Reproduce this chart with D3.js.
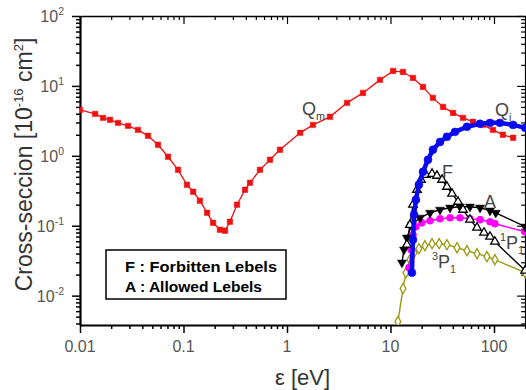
<!DOCTYPE html>
<html><head><meta charset="utf-8">
<script src="https://cdn.jsdelivr.net/npm/d3@7"></script>
<style>body{margin:0;background:#fff}svg{display:block}</style>
</head><body>
<script>
// ---- data (energy in eV, cross-section in 1e-16 cm^2) ----
const qmE=[0.01,0.014,0.0167,0.0195,0.0233,0.0291,0.0363,0.0454,0.0567,0.0709,0.0886,0.108,0.124,0.144,0.169,0.193,0.225,0.252,0.281,0.329,0.393,0.439,0.548,0.685,0.855,1.34,1.78,2.6,3.8,5.42,7.92,10.6,13.2,16.5,20.6,25.7,32.2,40.2,50.2,62.7,78.3,97.7,122,153];
const qmV=[4.54,3.98,3.49,3.27,2.96,2.68,2.35,1.93,1.44,0.97,0.63,0.385,0.306,0.228,0.153,0.110,0.0877,0.085,0.114,0.2,0.327,0.411,0.63,0.877,1.22,2.13,2.77,3.61,5.72,7.94,12.2,16.4,15.8,13.0,9.68,6.74,5.01,4.11,3.49,3.06,2.77,2.35,2.0,1.81];
const qiE=[16.1,16.5,16.9,17.6,18.8,20.6,23.0,25.7,30.1,35.1,42.0,54.8,73.3,91.5,114,153,200];
const qiV=[0.0213,0.063,0.144,0.235,0.385,0.59,0.877,1.22,1.58,1.87,2.2,2.6,2.87,2.96,2.96,2.77,2.51];
const fE=[14.4,15.4,16.5,18.0,19.7,22.0,25.2,28.1,31.5,35.1,39.3,44.9,50.2,58.6,68.5,80.0,91.5,102,200];
const fV=[0.0535,0.103,0.2,0.327,0.454,0.535,0.553,0.518,0.454,0.361,0.287,0.22,0.169,0.122,0.0936,0.0794,0.0696,0.059,0.0228];
const aE=[12.9,13.5,14.4,16.1,19.3,24.1,30.1,37.6,46.9,58.6,73.3,91.5,104,200];
const aV=[0.0296,0.0454,0.0674,0.103,0.13,0.153,0.169,0.181,0.187,0.187,0.181,0.164,0.153,0.0968];
const p1E=[15.1,15.8,16.5,17.6,20.1,24.1,30.1,37.6,46.9,58.6,73.3,91.5,102,200];
const p1V=[0.0251,0.0454,0.0744,0.0968,0.11,0.118,0.126,0.13,0.13,0.126,0.122,0.114,0.107,0.082];
const p3E=[11.8,13.2,14.1,15.4,16.9,18.8,21.5,25.2,29.5,35.1,43.9,54.8,68.5,85.5,102,200];
const p3V=[0.00425,0.0126,0.0213,0.0327,0.0411,0.0469,0.0518,0.0553,0.0553,0.0535,0.0485,0.0439,0.0398,0.0361,0.0327,0.0213];
const xTickLabels=["0.01","0.1","1","10","100"];
const yTickExps=[-2,-1,0,1,2];

const W=526,H=390;
const L=80,T=16,B=325;
const x=d3.scaleLog().domain([0.01,200]).range([L,L+103.5*Math.log10(20000)]);
const y=d3.scaleLog().domain([0.0038,100]).range([B,T]);
const R=x.range()[1];

const svg=d3.select("body").append("svg").attr("width",W).attr("height",H)
  .style("font-family","Arial, 'Liberation Sans', sans-serif");

svg.append("clipPath").attr("id","clip").append("rect").attr("x",L).attr("y",T).attr("width",R-L+2).attr("height",B-T);

const xt=[];for(let e=-2;e<=2;e++)for(let k=1;k<=9;k++){const v=k*Math.pow(10,e);if(v<=200)xt.push(v);}
const yt=[];for(let e=-3;e<=2;e++)for(let k=1;k<=9;k++){const v=k*Math.pow(10,e);if(v>=0.0038&&v<=100)yt.push(v);}
const isMaj=v=>Math.abs(Math.log10(v)-Math.round(Math.log10(v)))<1e-9;

const gx=svg.append("g").attr("transform",`translate(0,${B})`)
  .call(d3.axisBottom(x).tickValues(xt).tickFormat("").tickSizeOuter(0));
gx.selectAll(".tick line").attr("y2",d=>isMaj(d)?8:4).attr("stroke-width",1.5);
gx.select(".domain").attr("stroke-width",2.2);
const gy=svg.append("g").attr("transform",`translate(${L},0)`)
  .call(d3.axisLeft(y).tickValues(yt).tickFormat("").tickSizeOuter(0));
gy.selectAll(".tick line").attr("x2",d=>isMaj(d)?-8:-4).attr("stroke-width",1.5);
gy.select(".domain").attr("stroke-width",2.2);
const gr=svg.append("g").attr("transform",`translate(${R},0)`)
  .call(d3.axisLeft(y).tickValues(yt).tickFormat("").tickSizeOuter(0));
gr.selectAll(".tick line").attr("x2",d=>isMaj(d)?-8:-4).attr("stroke-width",1.2);
gr.select(".domain").attr("stroke-width",1.5);
const gt=svg.append("g").attr("transform",`translate(0,${T})`)
  .call(d3.axisBottom(x).tickValues(xt).tickFormat("").tickSizeOuter(0));
gt.selectAll(".tick line").attr("y2",d=>isMaj(d)?8:4).attr("stroke-width",1.2);
gt.select(".domain").attr("stroke-width",1.5);

xTickLabels.forEach(s=>{
  svg.append("text").attr("x",x(+s)).attr("y",352).attr("text-anchor","middle")
    .attr("font-size",16).attr("fill","#555").text(s);
});
yTickExps.forEach(e=>{
  const t=svg.append("text").attr("x",64).attr("y",y(Math.pow(10,e))+6).attr("text-anchor","end")
    .attr("font-size",16).attr("fill","#555");
  t.append("tspan").text("10");
  t.append("tspan").attr("dy",-7).attr("font-size",10.5).text(String(e));
});

svg.append("text").attr("x",(L+R)/2).attr("y",385).attr("text-anchor","middle")
  .attr("font-size",22).attr("fill","#333")
  .text("ε [eV]");
const yl=svg.append("text").attr("transform",`translate(32,${(T+B)/2-6}) rotate(-90)`)
  .attr("text-anchor","middle").attr("font-size",23).attr("fill","#333");
yl.append("tspan").text("Cross-seccion [10");
yl.append("tspan").attr("dy",-9).attr("font-size",13).text("-16");
yl.append("tspan").attr("dy",9).text(" cm");
yl.append("tspan").attr("dy",-9).attr("font-size",13).text("2");
yl.append("tspan").attr("dy",9).text("]");

const plot=svg.append("g").attr("clip-path","url(#clip)");
const line=d3.line().x(d=>x(d[0])).y(d=>y(d[1]));
function series(E,V,color,width,shape,size,fill){
  const pts=E.map((e,i)=>[e,V[i]]);
  plot.append("path").datum(pts).attr("d",line).attr("fill","none").attr("stroke",color).attr("stroke-width",width);
  const sym=d3.symbol().type(shape).size(size);
  plot.selectAll(null).data(pts).enter().append("path")
    .attr("transform",d=>`translate(${x(d[0])},${y(d[1])})${fill==="down"?" rotate(180)":""}`)
    .attr("d",sym())
    .attr("fill",fill==="none"?"#fff":color)
    .attr("stroke",color).attr("stroke-width",fill==="none"?1.3:0.5);
}
series(qmE,qmV,"#ee1111",1.3,d3.symbolSquare,30,"solid");
series(p3E,p3V,"#9a9a10",1.4,d3.symbolDiamond,30,"none");
series(p1E,p1V,"#ff00ff",1.5,d3.symbolCircle,40,"solid");
series(aE,aV,"#000",1.4,d3.symbolTriangle,35,"down");
series(fE,fV,"#000",1.4,d3.symbolTriangle,32,"none");
series(qiE,qiV,"#0a0aee",4.5,d3.symbolCircle,50,"solid");

function lab(xp,yp,pre,main,sub,size){
  const t=svg.append("text").attr("x",xp).attr("y",yp).attr("font-size",size).attr("fill","#444");
  if(pre) t.append("tspan").attr("font-size",size*0.6).attr("dy",-8).text(pre);
  t.append("tspan").attr("dy",pre?8:0).text(main);
  if(sub) t.append("tspan").attr("font-size",size*0.6).attr("dy",5).text(sub);
}
lab(302,115,null,"Q","m",18);
lab(495,116,null,"Q","i",18);
lab(442,178,null,"F",null,18);
lab(484,208,null,"A",null,18);
lab(500,249,"1","P","1",18);
lab(432,268,"3","P","1",18);

svg.append("rect").attr("x",106).attr("y",250).attr("width",180).attr("height",49)
  .attr("fill","#fff").attr("stroke","#000").attr("stroke-width",1.5);
svg.append("text").attr("x",125).attr("y",272).attr("font-size",15).attr("font-weight","bold")
  .attr("textLength",152).attr("lengthAdjust","spacingAndGlyphs").text("F : Forbitten Lebels");
svg.append("text").attr("x",125).attr("y",292).attr("font-size",15).attr("font-weight","bold")
  .attr("textLength",137).attr("lengthAdjust","spacingAndGlyphs").text("A : Allowed Lebels");
</script>
</body></html>
